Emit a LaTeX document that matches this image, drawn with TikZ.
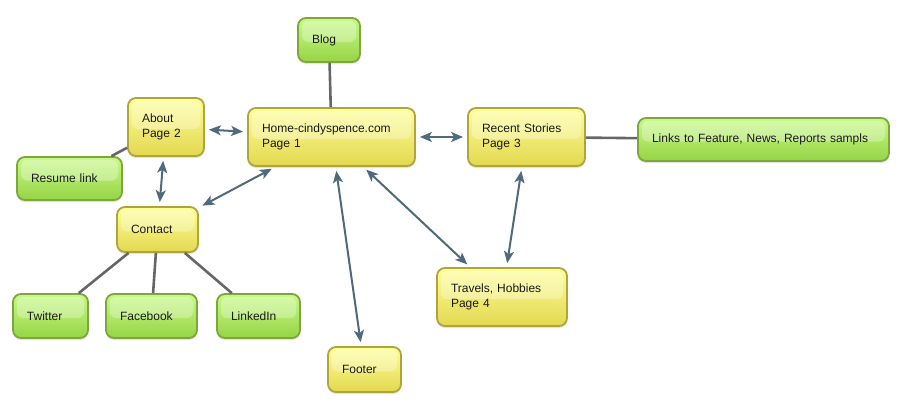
\documentclass[tikz,border=0pt]{standalone}
\usepackage{fontspec}
\setmainfont{Liberation Sans}
\usetikzlibrary{arrows.meta,shadows}
\definecolor{ytop}{HTML}{FFFF98}
\definecolor{ybot}{HTML}{E2D850}
\definecolor{yline}{HTML}{B0A53C}
\definecolor{gtop}{HTML}{C8FA88}
\definecolor{gbot}{HTML}{96D446}
\definecolor{gline}{HTML}{7EA63C}
\definecolor{arrowc}{HTML}{4E6A7C}
\definecolor{linkc}{HTML}{666666}
\definecolor{txt}{HTML}{1A1A1A}
\tikzset{
  basebox/.style={rounded corners=8pt, line width=1.8pt, inner xsep=14pt, inner ysep=2pt,
    align=left, text=txt, font=\fontsize{12}{15}\selectfont,
    drop shadow={shadow xshift=0pt, shadow yshift=-2pt, opacity=0.22},
    path picture={\fill[white,opacity=0.3,rounded corners=6pt]
      ([xshift=4pt,yshift=-3pt]path picture bounding box.north west) rectangle
      ([xshift=-4pt,yshift=-2pt]path picture bounding box.east);}},
  ybox/.style={basebox, draw=yline, top color=ytop, bottom color=ybot},
  gbox/.style={basebox, draw=gline, top color=gtop, bottom color=gbot},
  biarrow/.style={arrowc, line width=2pt, {Stealth[length=12pt,width=10pt,inset=3pt]}-{Stealth[length=12pt,width=10pt,inset=3pt]}, shorten <=4pt, shorten >=4pt},
  tie/.style={linkc, line width=2.6pt}
}
\begin{document}
\begin{tikzpicture}[x=1pt,y=-1pt]
\useasboundingbox (0,0) rectangle (899,402);
\path
 (329,40) coordinate (cBlog)
 (166,127) coordinate (cAbout)
 (331.5,137) coordinate (cHome)
 (69.5,178.5) coordinate (cResume)
 (526.5,137) coordinate (cRecent)
 (763.5,139.5) coordinate (cLinks)
 (502,297) coordinate (cTravels)
 (157.5,229.5) coordinate (cContact)
 (50.5,316) coordinate (cTwitter)
 (151.5,316) coordinate (cFacebook)
 (258.5,316) coordinate (cLinkedIn)
 (364.5,369.5) coordinate (cFooter);

\node[gbox, text width=34pt, minimum height=44pt] (blog) at (cBlog) {Blog};
\node[ybox, text width=48pt, minimum height=58pt] (about) at (cAbout) {About\\Page 2};
\node[ybox, text width=139pt, minimum height=58pt] (home) at (cHome) {Home-cindyspence.com\\Page 1};
\node[gbox, text width=77pt, minimum height=43pt] (resume) at (cResume) {Resume link};
\node[ybox, text width=89pt, minimum height=58pt] (recent) at (cRecent) {Recent Stories\\Page 3};
\node[gbox, text width=223pt, minimum height=43pt] (links) at (cLinks) {Links to Feature, News, Reports sampls};
\node[ybox, text width=102pt, minimum height=58pt] (travels) at (cTravels) {Travels, Hobbies\\Page 4};
\node[ybox, text width=53pt, minimum height=45pt] (contact) at (cContact) {Contact};
\node[gbox, text width=47pt, minimum height=44pt] (twitter) at (cTwitter) {Twitter};
\node[gbox, text width=63pt, minimum height=44pt] (facebook) at (cFacebook) {Facebook};
\node[gbox, text width=55pt, minimum height=44pt] (linkedin) at (cLinkedIn) {LinkedIn};
\node[ybox, text width=45pt, minimum height=45pt] (footer) at (cFooter) {Footer};

\draw[tie] (blog) -- (home);
\draw[tie] (about) -- (resume);
\draw[tie] (recent) -- (links);
\draw[tie] (contact) -- (twitter);
\draw[tie] (contact) -- (facebook);
\draw[tie] (contact) -- (linkedin);

\draw[biarrow] (about) -- (home);
\draw[biarrow] (about) -- (contact);
\draw[biarrow] (home) -- (contact);
\draw[biarrow] (home) -- (footer);
\draw[biarrow] (home) -- (travels);
\draw[biarrow] (home) -- (recent);
\draw[biarrow] (recent) -- (travels);
\end{tikzpicture}
\end{document}
